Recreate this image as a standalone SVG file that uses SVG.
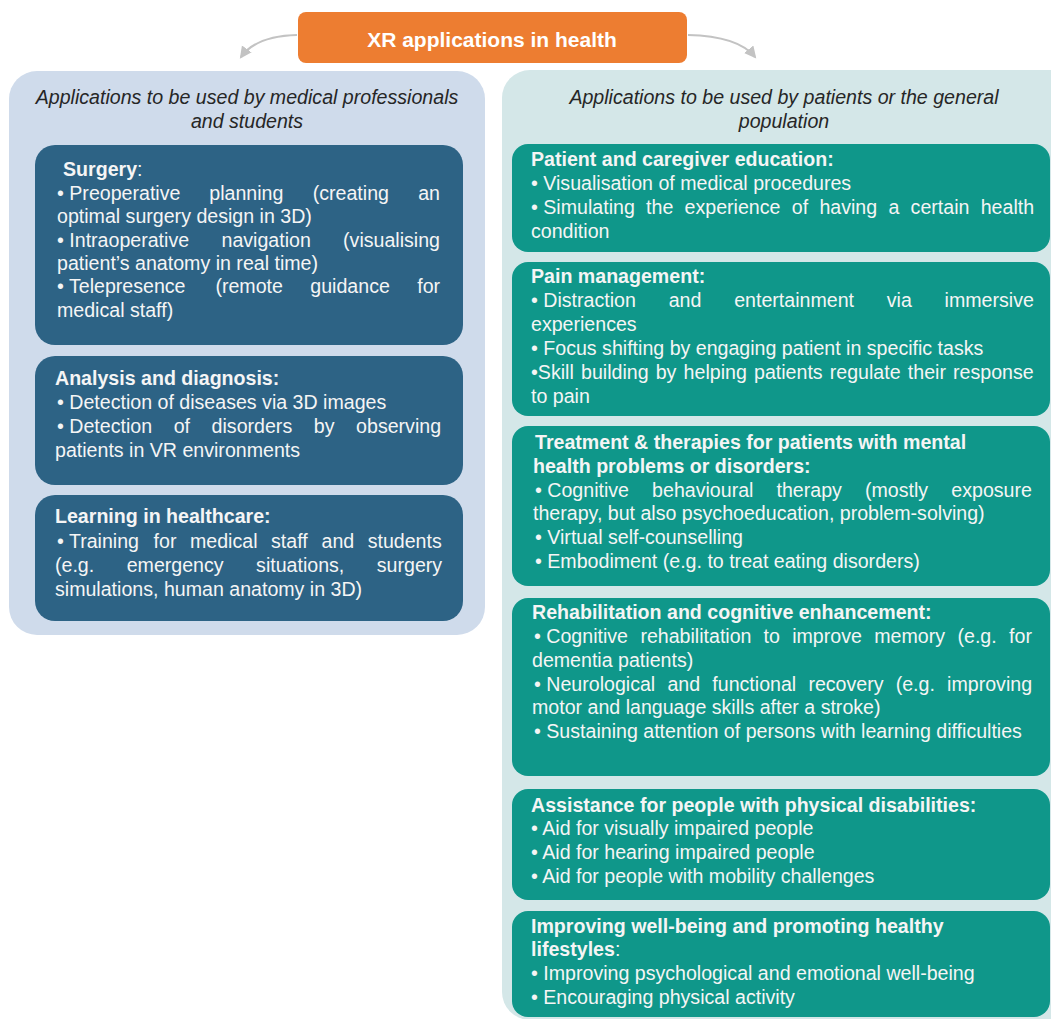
<svg xmlns="http://www.w3.org/2000/svg" width="1051" height="1019" viewBox="0 0 1051 1019">
<style>
.t{font-family:"Liberation Sans",Arial,sans-serif;font-size:19.6px;fill:#f5f5f5}
.b{font-weight:bold}
.hd{font-family:"Liberation Sans",Arial,sans-serif;font-size:19.6px;font-style:italic;fill:#262626;text-anchor:middle}
.title{font-family:"Liberation Sans",Arial,sans-serif;font-size:21px;font-weight:bold;fill:#ffffff;text-anchor:middle}
.lb{fill:#2d6385}
.rb{fill:#0f978a}
.conn{fill:none;stroke:#c3c3c3;stroke-width:2.2}
</style>
<defs>
<marker id="ah" markerUnits="userSpaceOnUse" markerWidth="14" markerHeight="14" refX="10" refY="6" orient="auto">
<path d="M0,0 L12,6 L0,12 Z" fill="#c3c3c3"/>
</marker>
</defs>
<rect width="1051" height="1019" fill="#ffffff"/>

<g id="panel-left">
<rect x="9" y="71" width="476" height="564" rx="28" fill="#cfdbeb"/>
<text class="hd" x="247" y="104">Applications to be used by medical professionals</text>
<text class="hd" x="247" y="128">and students</text>
</g>

<g id="panel-right">
<rect x="502" y="70" width="580" height="950" rx="28" fill="#d4e7e8"/>
<text class="hd" x="784" y="104">Applications to be used by patients or the general</text>
<text class="hd" x="784" y="128">population</text>
</g>

<g id="connectors">
<path class="conn" d="M297,35 Q256,36 241,57" marker-end="url(#ah)"/>
<path class="conn" d="M688,35 Q738,36 755,57" marker-end="url(#ah)"/>
</g>

<g id="title">
<rect x="298" y="12" width="389" height="51" rx="8" fill="#ed7d31"/>
<text class="title" x="492" y="47">XR applications in health</text>
</g>

<g id="surgery">
<rect class="lb" x="35" y="145" width="428" height="200" rx="20"/>
<text class="t" x="63" y="176"><tspan class="b">Surgery</tspan>:</text>
<text class="t" y="200"><tspan x="57">• Preoperative</tspan><tspan x="209.3">planning</tspan><tspan x="312.7">(creating</tspan><tspan x="418.2">an</tspan></text>
<text class="t" x="57" y="223">optimal surgery design in 3D)</text>
<text class="t" y="247"><tspan x="57">• Intraoperative</tspan><tspan x="221.5">navigation</tspan><tspan x="343.1">(visualising</tspan></text>
<text class="t" x="57" y="270">patient’s anatomy in real time)</text>
<text class="t" y="293"><tspan x="57">• Telepresence</tspan><tspan x="215.4">(remote</tspan><tspan x="310.3">guidance</tspan><tspan x="417.2">for</tspan></text>
<text class="t" x="57" y="317">medical staff)</text>
</g>

<g id="analysis">
<rect class="lb" x="35" y="356" width="428" height="129" rx="20"/>
<text class="t b" x="55" y="385">Analysis and diagnosis:</text>
<text class="t" x="57" y="409">• Detection of diseases via 3D images</text>
<text class="t" y="433"><tspan x="57">• Detection</tspan><tspan x="173.7">of</tspan><tspan x="211.6">disorders</tspan><tspan x="313.8">by</tspan><tspan x="356.1">observing</tspan></text>
<text class="t" x="55" y="457">patients in VR environments</text>
</g>

<g id="learning">
<rect class="lb" x="35" y="495" width="428" height="126" rx="20"/>
<text class="t b" x="55" y="523">Learning in healthcare:</text>
<text class="t" y="548"><tspan x="57">• Training</tspan><tspan x="153.6">for</tspan><tspan x="190">medical</tspan><tspan x="271">staff</tspan><tspan x="321.5">and</tspan><tspan x="367.7">students</tspan></text>
<text class="t" y="572"><tspan x="55">(e.g.</tspan><tspan x="126.7">emergency</tspan><tspan x="256.1">situations,</tspan><tspan x="376.8">surgery</tspan></text>
<text class="t" x="55" y="596">simulations, human anatomy in 3D)</text>
</g>

<g id="education">
<rect class="rb" x="512" y="144" width="538" height="108" rx="16"/>
<text class="t b" x="531" y="166">Patient and caregiver education:</text>
<text class="t" x="531" y="190">• Visualisation of medical procedures</text>
<text class="t" y="214"><tspan x="531">• Simulating</tspan><tspan x="646.1">the</tspan><tspan x="684.6">experience</tspan><tspan x="791.8">of</tspan><tspan x="819.4">having</tspan><tspan x="888.4">a</tspan><tspan x="910.6">certain</tspan><tspan x="980.7">health</tspan></text>
<text class="t" x="531" y="238">condition</text>
</g>

<g id="pain">
<rect class="rb" x="512" y="262" width="538" height="154" rx="16"/>
<text class="t b" x="531" y="283">Pain management:</text>
<text class="t" y="307"><tspan x="531">• Distraction</tspan><tspan x="668.7">and</tspan><tspan x="734.2">entertainment</tspan><tspan x="886.8">via</tspan><tspan x="944.6">immersive</tspan></text>
<text class="t" x="531" y="331">experiences</text>
<text class="t" x="531" y="355">• Focus shifting by engaging patient in specific tasks</text>
<text class="t" y="379"><tspan x="531">•Skill</tspan><tspan x="581">building</tspan><tspan x="655.7">by</tspan><tspan x="683.6">helping</tspan><tspan x="754">patients</tspan><tspan x="829.8">regulate</tspan><tspan x="907.8">their</tspan><tspan x="953.1">response</tspan></text>
<text class="t" x="531" y="403">to pain</text>
</g>

<g id="treatment">
<rect class="rb" x="512" y="426" width="538" height="160" rx="16"/>
<text class="t b" x="535" y="449">Treatment &amp; therapies for patients with mental</text>
<text class="t b" x="533" y="473">health problems or disorders:</text>
<text class="t" y="497"><tspan x="535">• Cognitive</tspan><tspan x="652.1">behavioural</tspan><tspan x="776.5">therapy</tspan><tspan x="865">(mostly</tspan><tspan x="951.3">exposure</tspan></text>
<text class="t" x="533" y="520">therapy, but also psychoeducation, problem-solving)</text>
<text class="t" x="535" y="544">• Virtual self-counselling</text>
<text class="t" x="535" y="568">• Embodiment (e.g. to treat eating disorders)</text>
</g>

<g id="rehabilitation">
<rect class="rb" x="512" y="598" width="538" height="178" rx="16"/>
<text class="t b" x="532" y="619">Rehabilitation and cognitive enhancement:</text>
<text class="t" y="643"><tspan x="534">• Cognitive</tspan><tspan x="640.4">rehabilitation</tspan><tspan x="763.5">to</tspan><tspan x="792.2">improve</tspan><tspan x="874.3">memory</tspan><tspan x="957.5">(e.g.</tspan><tspan x="1009.1">for</tspan></text>
<text class="t" x="532" y="667">dementia patients)</text>
<text class="t" y="691"><tspan x="534">• Neurological</tspan><tspan x="667.4">and</tspan><tspan x="712.3">functional</tspan><tspan x="808.4">recovery</tspan><tspan x="895.7">(e.g.</tspan><tspan x="947.1">improving</tspan></text>
<text class="t" x="532" y="714">motor and language skills after a stroke)</text>
<text class="t" x="534" y="738">• Sustaining attention of persons with learning difficulties</text>
</g>

<g id="assistance">
<rect class="rb" x="512" y="789" width="538" height="111" rx="16"/>
<text class="t b" x="531" y="812">Assistance for people with physical disabilities:</text>
<text class="t" x="531" y="835">• Aid for visually impaired people</text>
<text class="t" x="531" y="859">• Aid for hearing impaired people</text>
<text class="t" x="531" y="883">• Aid for people with mobility challenges</text>
</g>

<g id="wellbeing">
<rect class="rb" x="512" y="911" width="538" height="106" rx="16"/>
<text class="t b" x="531" y="933">Improving well-being and promoting healthy</text>
<text class="t" x="531" y="956"><tspan class="b">lifestyles</tspan>:</text>
<text class="t" x="531" y="980">• Improving psychological and emotional well-being</text>
<text class="t" x="531" y="1004">• Encouraging physical activity</text>
</g>
</svg>
